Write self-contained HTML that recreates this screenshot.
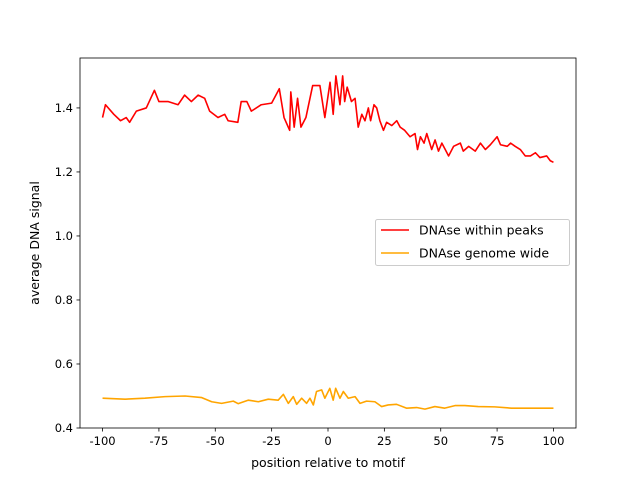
<!DOCTYPE html>
<html><head><meta charset="utf-8"><style>
body{margin:0;background:#fff;}
svg{display:block;font-family:"DejaVu Sans","Liberation Sans",sans-serif;}
</style></head><body>
<svg id="chart" width="640" height="480">
<g id="plot"></g>
</svg>
<script>
const redX=[-100,-98.7,-95,-92,-89.5,-88,-85,-80.6,-77,-75,-71,-66.5,-63.6,-60.6,-57.6,-54.7,-52.5,-48.8,-45.8,-44.3,-40,-38.5,-36,-34,-29.6,-25,-21.6,-19.5,-17,-16.5,-15,-13.5,-12,-9.8,-6.8,-3.6,-1.4,0.9,2.3,3.5,5.3,6.5,7.4,8.5,10.4,12,13.4,15,16.4,17.9,18.9,20.4,21.6,23,24.6,26,28.3,30.5,32,34,36.4,38.6,39.7,41,42.6,43.8,46,47.5,49,50.5,52,53.5,55.7,58.7,60,62.4,65.3,67.6,69.8,72,75,76.5,79.5,81,83,85.3,87.5,89.8,92,94,97,98.6,100];
const redY=[1.37,1.41,1.38,1.36,1.37,1.355,1.39,1.40,1.455,1.42,1.42,1.41,1.44,1.42,1.44,1.43,1.39,1.37,1.38,1.36,1.355,1.42,1.42,1.39,1.41,1.415,1.46,1.37,1.33,1.45,1.34,1.43,1.34,1.37,1.47,1.47,1.37,1.48,1.38,1.50,1.41,1.50,1.42,1.465,1.42,1.43,1.34,1.38,1.36,1.40,1.36,1.41,1.40,1.36,1.33,1.355,1.345,1.36,1.34,1.33,1.31,1.32,1.27,1.31,1.29,1.32,1.27,1.30,1.265,1.29,1.27,1.25,1.28,1.29,1.265,1.28,1.265,1.29,1.27,1.285,1.31,1.285,1.28,1.29,1.28,1.27,1.25,1.25,1.26,1.245,1.25,1.235,1.23];
const orX=[-100,-90,-81.2,-72.3,-63.4,-56,-51.6,-47.2,-42,-39.8,-35.3,-30.9,-26.5,-22.1,-19.8,-17.6,-15.4,-13.9,-11.7,-9.5,-8,-6.5,-5.1,-2.8,-1.4,0.8,2.3,3.4,5.3,6.8,9,12,14.2,17.1,20.8,23.8,26.7,30.4,34.8,39.3,43,47.4,51.8,56.3,60.7,66.6,74,81.4,88.8,100];
const orY=[0.493,0.490,0.493,0.498,0.500,0.495,0.482,0.477,0.484,0.476,0.487,0.482,0.490,0.487,0.505,0.477,0.498,0.474,0.493,0.477,0.493,0.472,0.514,0.519,0.493,0.524,0.487,0.524,0.493,0.514,0.493,0.498,0.477,0.484,0.482,0.467,0.472,0.474,0.462,0.464,0.459,0.467,0.462,0.470,0.470,0.467,0.466,0.462,0.462,0.462];
const xTicks=[-100,-75,-50,-25,0,25,50,75,100];
const yTicks=[0.4,0.6,0.8,1.0,1.2,1.4];
const L=80,R=576,T=58,B=428,xmin=-110,xmax=110,ymin=0.4,ymax=1.556;
const sx=v=>L+(v-xmin)/(xmax-xmin)*(R-L);
const sy=v=>B-(v-ymin)/(ymax-ymin)*(B-T);
const NS="http://www.w3.org/2000/svg";
const g=document.getElementById('plot');
function mk(t,a,p){const e=document.createElementNS(NS,t);for(const k in a)e.setAttribute(k,a[k]);(p||g).appendChild(e);return e;}
function series(xs,ys,c,name){
 const e=mk('polyline',{points:xs.map((x,i)=>sx(x)+','+sy(ys[i])).join(' '),fill:'none',stroke:c,'stroke-width':1.6,'stroke-linejoin':'round'});
 
 
}
series(redX,redY,'#ff0000','dnase-within-peaks-line');
series(orX,orY,'#ffa500','dnase-genome-wide-line');
const fr=mk('rect',{x:L,y:T,width:R-L,height:B-T,fill:'none',stroke:'#000','stroke-width':0.8});


xTicks.forEach(v=>{const x=sx(v);mk('line',{x1:x,x2:x,y1:B,y2:B+3.5,stroke:'#000','stroke-width':0.8});
 const t=mk('text',{x:x,y:B+17,'font-size':'11.5','text-anchor':'middle'});t.textContent=v;
 
 });
yTicks.forEach(v=>{const y=sy(v);mk('line',{x1:L,x2:L-3.5,y1:y,y2:y,stroke:'#000','stroke-width':0.8});
 const t=mk('text',{x:L-7,y:y+4,'font-size':'11.5','text-anchor':'end'});t.textContent=v.toFixed(1);
 
 });
</script>
<svg style="position:absolute;left:0;top:0" width="640" height="480">
<text x="328" y="467" font-size="12.5" text-anchor="middle" font-family="DejaVu Sans,sans-serif">position relative to motif</text>
<text transform="translate(39,243) rotate(-90)" font-size="12.5" text-anchor="middle" font-family="DejaVu Sans,sans-serif">average DNA signal</text>
<g>
<rect x="375.5" y="219.5" width="194" height="46" rx="2" fill="#fff" fill-opacity="0.8" stroke="#ccc"/>
<line x1="381" x2="409" y1="230" y2="230" stroke="#ff0000" stroke-width="1.6"/>
<text x="419" y="234.5" font-size="12.5" font-family="DejaVu Sans,sans-serif">DNAse within peaks</text>
<line x1="381" x2="409" y1="253" y2="253" stroke="#ffa500" stroke-width="1.6"/>
<text x="419" y="257.5" font-size="12.5" font-family="DejaVu Sans,sans-serif">DNAse genome wide</text>
</g>
</svg>
</body></html>
